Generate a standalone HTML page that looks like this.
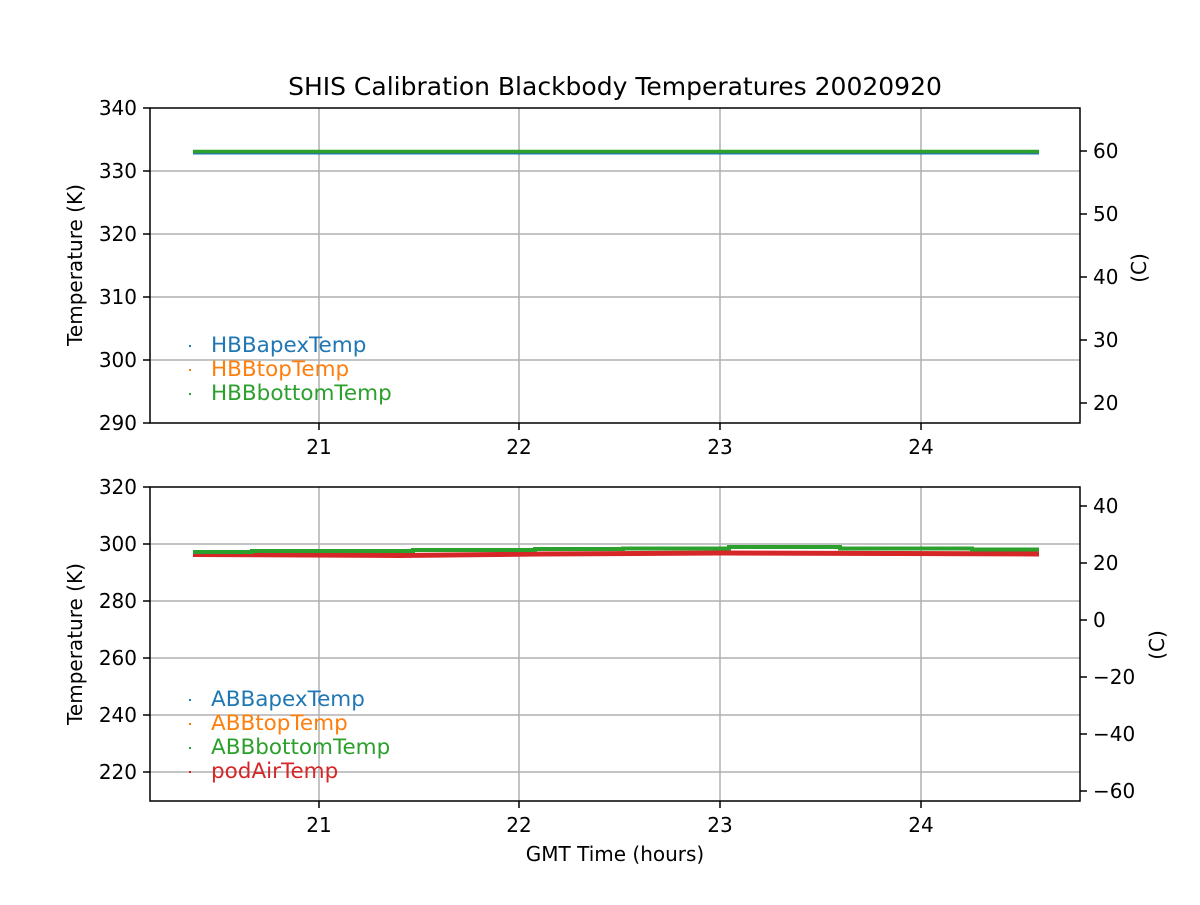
<!DOCTYPE html><html><head><style>body{margin:0;background:#fff}svg text{font-family:"DejaVu Sans","Liberation Sans",sans-serif}</style></head><body>
<svg width="1200" height="900" xmlns="http://www.w3.org/2000/svg">
<rect width="1200" height="900" fill="#fff"/>
<text x="615" y="95" font-size="25" text-anchor="middle">SHIS Calibration Blackbody Temperatures 20020920</text>
<g stroke="#b0b0b0" stroke-width="1.5">
<line x1="319" y1="108" x2="319" y2="423"/><line x1="519" y1="108" x2="519" y2="423"/><line x1="720" y1="108" x2="720" y2="423"/><line x1="921" y1="108" x2="921" y2="423"/>
<line x1="150" y1="171" x2="1080" y2="171"/><line x1="150" y1="234" x2="1080" y2="234"/><line x1="150" y1="297" x2="1080" y2="297"/><line x1="150" y1="360" x2="1080" y2="360"/>
<line x1="319" y1="487" x2="319" y2="801"/><line x1="519" y1="487" x2="519" y2="801"/><line x1="720" y1="487" x2="720" y2="801"/><line x1="921" y1="487" x2="921" y2="801"/>
<line x1="150" y1="544" x2="1080" y2="544"/><line x1="150" y1="601" x2="1080" y2="601"/><line x1="150" y1="658" x2="1080" y2="658"/><line x1="150" y1="715" x2="1080" y2="715"/><line x1="150" y1="772" x2="1080" y2="772"/>
</g>
<line x1="193" y1="152.5" x2="1039" y2="152.5" stroke="#1f77b4" stroke-width="4"/>
<line x1="193" y1="151.5" x2="1039" y2="151.5" stroke="#2ca02c" stroke-width="3.5"/>
<polyline fill="none" stroke="#d62728" stroke-width="5" points="193,554.5 400,555.5 540,554 720,553 900,553.5 1039,554"/>
<polyline fill="none" stroke="#2ca02c" stroke-width="4" points="193,552 252,552 252,551 413,551 413,550 535,550 535,549 623,549 623,548.5 729,548.5 729,547 840,547 840,548.5 972,548.5 972,549.5 1039,549.5"/>
<g fill="none" stroke="#000" stroke-width="1.5">
<rect x="150" y="108" width="930" height="315"/><rect x="150" y="487" width="930" height="314"/>
</g>
<g stroke="#000" stroke-width="1.5">
<line x1="319" y1="423" x2="319" y2="430"/><line x1="519" y1="423" x2="519" y2="430"/><line x1="720" y1="423" x2="720" y2="430"/><line x1="921" y1="423" x2="921" y2="430"/>
<line x1="319" y1="801" x2="319" y2="808"/><line x1="519" y1="801" x2="519" y2="808"/><line x1="720" y1="801" x2="720" y2="808"/><line x1="921" y1="801" x2="921" y2="808"/>
<line x1="143" y1="108" x2="150" y2="108"/><line x1="143" y1="171" x2="150" y2="171"/><line x1="143" y1="234" x2="150" y2="234"/><line x1="143" y1="297" x2="150" y2="297"/><line x1="143" y1="360" x2="150" y2="360"/><line x1="143" y1="423" x2="150" y2="423"/>
<line x1="1080" y1="151" x2="1087" y2="151"/><line x1="1080" y1="214" x2="1087" y2="214"/><line x1="1080" y1="277" x2="1087" y2="277"/><line x1="1080" y1="340" x2="1087" y2="340"/><line x1="1080" y1="403" x2="1087" y2="403"/>
<line x1="143" y1="487" x2="150" y2="487"/><line x1="143" y1="544" x2="150" y2="544"/><line x1="143" y1="601" x2="150" y2="601"/><line x1="143" y1="658" x2="150" y2="658"/><line x1="143" y1="715" x2="150" y2="715"/><line x1="143" y1="772" x2="150" y2="772"/>
<line x1="1080" y1="506" x2="1087" y2="506"/><line x1="1080" y1="563" x2="1087" y2="563"/><line x1="1080" y1="620" x2="1087" y2="620"/><line x1="1080" y1="677" x2="1087" y2="677"/><line x1="1080" y1="734" x2="1087" y2="734"/><line x1="1080" y1="791" x2="1087" y2="791"/>
</g>
<g font-size="20" text-anchor="middle">
<text x="319" y="454">21</text><text x="519" y="454">22</text><text x="720" y="454">23</text><text x="921" y="454">24</text>
<text x="319" y="832">21</text><text x="519" y="832">22</text><text x="720" y="832">23</text><text x="921" y="832">24</text>
<text x="615" y="861">GMT Time (hours)</text>
</g>
<g font-size="20" text-anchor="end">
<text x="137" y="115">340</text><text x="137" y="178">330</text><text x="137" y="241">320</text><text x="137" y="304">310</text><text x="137" y="367">300</text><text x="137" y="430">290</text>
<text x="137" y="494">320</text><text x="137" y="551">300</text><text x="137" y="608">280</text><text x="137" y="665">260</text><text x="137" y="722">240</text><text x="137" y="779">220</text>
</g>
<g font-size="20">
<text x="1093" y="158">60</text><text x="1093" y="221">50</text><text x="1093" y="284">40</text><text x="1093" y="347">30</text><text x="1093" y="410">20</text>
<text x="1093" y="513">40</text><text x="1093" y="570">20</text><text x="1093" y="627">0</text><text x="1093" y="684">−20</text><text x="1093" y="741">−40</text><text x="1093" y="798">−60</text>
</g>
<text font-size="20" text-anchor="middle" transform="translate(82,265) rotate(-90)">Temperature (K)</text>
<text font-size="20" text-anchor="middle" transform="translate(82,644) rotate(-90)">Temperature (K)</text>
<text font-size="20" text-anchor="middle" transform="translate(1146,268) rotate(-90)">(C)</text>
<text font-size="20" text-anchor="middle" transform="translate(1164,645) rotate(-90)">(C)</text>
<g font-size="21.5">
<rect x="189" y="345" width="2" height="2" fill="#1f77b4"/><text x="211" y="352" fill="#1f77b4">HBBapexTemp</text>
<rect x="189" y="369" width="2" height="2" fill="#ff7f0e"/><text x="211" y="376" fill="#ff7f0e">HBBtopTemp</text>
<rect x="189" y="393" width="2" height="2" fill="#2ca02c"/><text x="211" y="400" fill="#2ca02c">HBBbottomTemp</text>
<rect x="189" y="699" width="2" height="2" fill="#1f77b4"/><text x="211" y="706" fill="#1f77b4">ABBapexTemp</text>
<rect x="189" y="723" width="2" height="2" fill="#ff7f0e"/><text x="211" y="730" fill="#ff7f0e">ABBtopTemp</text>
<rect x="189" y="747" width="2" height="2" fill="#2ca02c"/><text x="211" y="754" fill="#2ca02c">ABBbottomTemp</text>
<rect x="189" y="771" width="2" height="2" fill="#d62728"/><text x="211" y="778" fill="#d62728">podAirTemp</text>
</g>
</svg></body></html>
